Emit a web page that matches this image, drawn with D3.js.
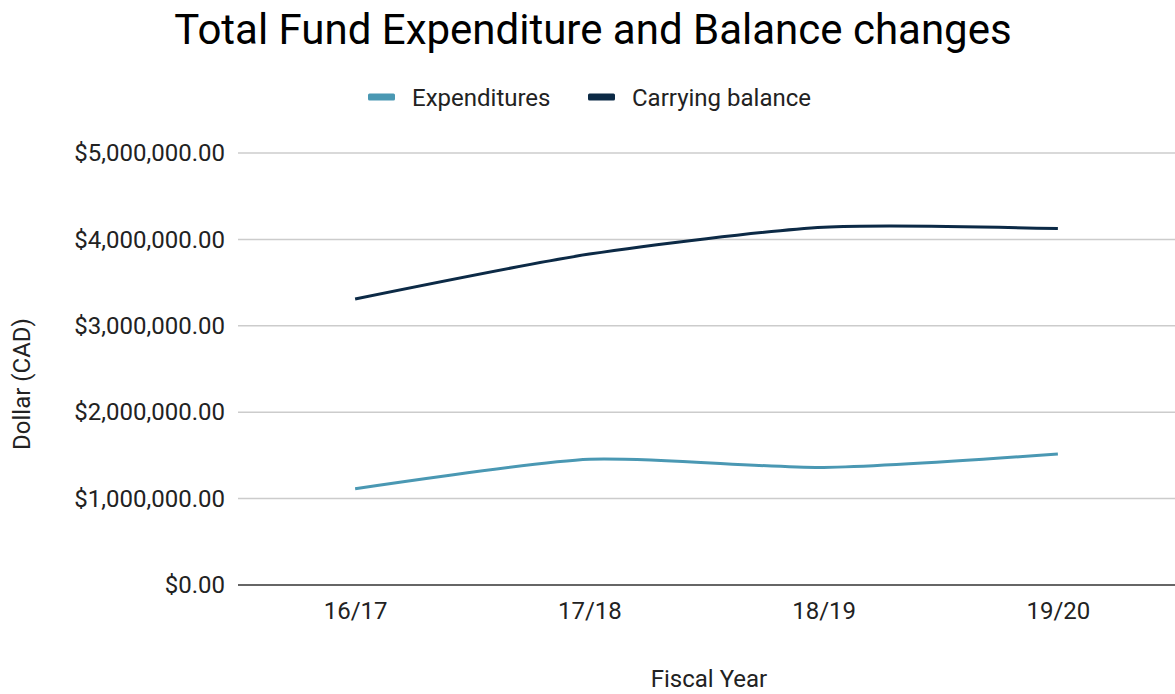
<!DOCTYPE html>
<meta charset="utf-8">
<script src="https://d3js.org/d3.v7.min.js"></script>
<style>
  body { margin: 0; background: #fff; }
  text { font-family: Roboto, "Noto Sans", sans-serif; }
</style>
<div id="chart"></div>
<script>
// data
var years = ["16/17", "17/18", "18/19", "19/20"];
var expenditures = [1115000, 1455000, 1360000, 1516000];
var carryingBalance = [3310000, 3830000, 4140000, 4125000];
var yTicks = [0, 1000000, 2000000, 3000000, 4000000, 5000000];

var W = 1175, H = 694;
var margin = {top: 153, right: 0, bottom: 109, left: 238};
var width = W - margin.left - margin.right,
    height = H - margin.top - margin.bottom;

var svg = d3.select("#chart").append("svg")
    .attr("width", W).attr("height", H);

// title
svg.append("text")
    .attr("x", 593).attr("y", 44)
    .attr("text-anchor", "middle")
    .style("font-size", "42px")
    .style("fill", "#000")
    .text("Total Fund Expenditure and Balance changes");

var g = svg.append("g")
    .attr("transform", "translate(" + margin.left + "," + margin.top + ")");

var x = d3.scalePoint().domain(years).range([0, width]).padding(0.5);
var y = d3.scaleLinear().domain([0, 5000000]).range([height, 0]);

var fmt = function(d) { return "$" + d3.format(",.2f")(d); };

// gridlines
g.selectAll(".grid").data(yTicks.filter(function(d) { return d > 0; }))
  .enter().append("line")
    .attr("x1", 0).attr("x2", width)
    .attr("y1", function(d) { return y(d); })
    .attr("y2", function(d) { return y(d); })
    .attr("stroke", "#cccccc").attr("stroke-width", 1.5);

// y axis labels
var yAxis = g.append("g")
    .call(d3.axisLeft(y).tickValues(yTicks).tickFormat(fmt).tickSize(0).tickPadding(13));
yAxis.select(".domain").remove();
yAxis.selectAll("text").style("font-size", "24px").style("fill", "#222")
    .style("font-family", "Roboto, sans-serif");

// baseline
g.append("line")
    .attr("x1", 0).attr("x2", width)
    .attr("y1", y(0)).attr("y2", y(0))
    .attr("stroke", "#333").attr("stroke-width", 1.5);

// x axis
var xAxis = g.append("g")
    .attr("transform", "translate(0," + height + ")")
    .call(d3.axisBottom(x).tickSize(0).tickPadding(17));
xAxis.select(".domain").remove();
xAxis.selectAll("text").style("font-size", "24px").style("fill", "#222")
    .style("font-family", "Roboto, sans-serif");

// axis titles
svg.append("text")
    .attr("x", 709).attr("y", 687)
    .attr("text-anchor", "middle")
    .style("font-size", "24px").style("fill", "#222")
    .text("Fiscal Year");
svg.append("text")
    .attr("transform", "translate(30,384)rotate(-90)")
    .attr("text-anchor", "middle")
    .style("font-size", "24px").style("fill", "#222")
    .text("Dollar (CAD)");

// lines
var series = [
  {name: "Expenditures", values: expenditures, color: "#4a98b3"},
  {name: "Carrying balance", values: carryingBalance, color: "#0c2a46"}
];

var line = d3.line()
    .x(function(d, i) { return x(years[i]); })
    .y(function(d) { return y(d); })
    .curve(d3.curveCardinal.tension(0.3));

g.selectAll(".series").data(series)
  .enter().append("path")
    .attr("d", function(d) { return line(d.values); })
    .attr("fill", "none")
    .attr("stroke", function(d) { return d.color; })
    .attr("stroke-width", 3);

// legend
var legendX = [368, 588];
var leg = svg.selectAll(".leg").data(series).enter().append("g")
    .attr("transform", function(d, i) { return "translate(" + legendX[i] + ",97)"; });
leg.append("rect")
    .attr("x", 0).attr("y", -3.5).attr("width", 27).attr("height", 7).attr("rx", 1.5)
    .attr("fill", function(d) { return d.color; });
leg.append("text")
    .attr("x", 44).attr("y", 9)
    .style("font-size", "24px").style("fill", "#222")
    .text(function(d) { return d.name; });
</script>
